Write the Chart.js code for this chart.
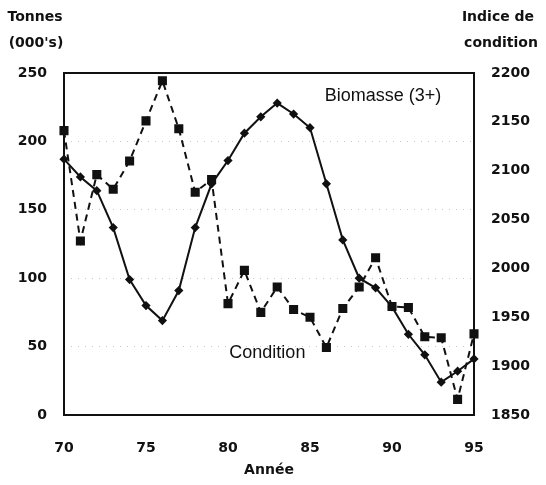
<!DOCTYPE html>
<html>
<head>
<meta charset="utf-8">
<script src="https://cdn.jsdelivr.net/npm/chart.js@4/dist/chart.umd.min.js"></script>
<style>
  html, body { margin: 0; padding: 0; background: #fff; }
  #wrap { width: 546px; height: 485px; }
</style>
</head>
<body>
<div id="wrap"><canvas id="chart" width="546" height="485"></canvas></div>
<script>
// valeurs
const years = [70, 71, 72, 73, 74, 75, 76, 77, 78, 79, 80, 81, 82, 83, 84, 85, 86, 87, 88, 89, 90, 91, 92, 93, 94, 95];
const biomasse = [187, 174, 164, 137, 99, 80, 69, 91, 137, 169, 186, 206, 218, 228, 220, 210, 169, 128, 100, 93, 79, 59, 44, 24, 32, 41];
const condition = [2141, 2028, 2096, 2081, 2110, 2151, 2192, 2143, 2078, 2091, 1964, 1998, 1955, 1981, 1958, 1950, 1919, 1959, 1981, 2011, 1961, 1960, 1930, 1929, 1866, 1933];
const leftTicks = [0, 50, 100, 150, 200, 250];
const rightTicks = [1850, 1900, 1950, 2000, 2050, 2100, 2150, 2200];
const yearTicks = [70, 75, 80, 85, 90, 95];

const boldFont = '"DejaVu Sans", sans-serif';
const textFont = '"Liberation Sans", Arial, sans-serif';

const toPoints = (vals) => years.map((yr, i) => ({ x: yr, y: vals[i] }));
const plain = (v) => String(v);

// textes fixes + cadre
const decor = {
    id: "decor",
    beforeDatasetsDraw(chart) {
        const { ctx, chartArea: a } = chart;
        ctx.save();
        ctx.strokeStyle = "#111";
        ctx.lineWidth = 2;
        ctx.strokeRect(a.left, a.top, a.right - a.left, a.bottom - a.top);
        ctx.restore();
    },
    afterDraw(chart) {
        const { ctx, scales } = chart;
        ctx.save();
        ctx.fillStyle = "#111";
        ctx.textBaseline = "middle";
        ctx.textAlign = "center";
        ctx.font = "bold 14px " + boldFont;
        ctx.fillText("Tonnes", 35, 17);
        ctx.fillText("(000's)", 36, 43);
        ctx.fillText("Indice de", 498, 17);
        ctx.fillText("condition", 501, 43);
        ctx.fillText("Année", (chart.chartArea.left + chart.chartArea.right) / 2, 470);

        ctx.font = "18px " + textFont;
        ctx.fillText("Biomasse (3+)", scales.x.getPixelForValue(89.45), scales.y.getPixelForValue(233));
        ctx.fillText("Condition", scales.x.getPixelForValue(82.4), scales.y.getPixelForValue(45));
        ctx.restore();
    }
};

const tickFont = { family: boldFont, size: 14, weight: "bold" };

new Chart(document.getElementById("chart"), {
    type: "line",
    data: {
        datasets: [
            {
                label: "Biomasse (3+)",
                data: toPoints(biomasse),
                yAxisID: "y",
                borderColor: "#111",
                backgroundColor: "#111",
                borderWidth: 2,
                pointStyle: "rectRot",
                pointRadius: 3.2,
                tension: 0,
                clip: false
            },
            {
                label: "Condition",
                data: toPoints(condition),
                yAxisID: "y2",
                borderColor: "#111",
                backgroundColor: "#111",
                borderWidth: 2,
                borderDash: [7, 5],
                pointStyle: "rect",
                pointRadius: 5,
                tension: 0,
                clip: false
            }
        ]
    },
    options: {
        responsive: false,
        animation: false,
        layout: { padding: { top: 73, left: 0, right: 0, bottom: 0 } },
        plugins: {
            legend: { display: false },
            tooltip: { enabled: false }
        },
        scales: {
            x: {
                type: "linear",
                min: 70,
                max: 95,
                afterFit: (s) => { s.height = 70; },
                afterBuildTicks: (s) => { s.ticks = yearTicks.map(v => ({ value: v })); },
                grid: { display: false, drawTicks: false },
                border: { display: false },
                ticks: { padding: 25, color: "#111", font: tickFont, callback: plain }
            },
            y: {
                position: "left",
                min: 0,
                max: 250,
                afterFit: (s) => { s.width = 64; },
                afterBuildTicks: (s) => { s.ticks = leftTicks.map(v => ({ value: v })); },
                grid: { drawTicks: false, color: "rgba(0,0,0,0.22)", lineWidth: 1 },
                border: { display: false, dash: [1, 6] },
                ticks: { padding: 17, color: "#111", font: tickFont, callback: plain }
            },
            y2: {
                position: "right",
                min: 1850,
                max: 2200,
                afterFit: (s) => { s.width = 72; },
                afterBuildTicks: (s) => { s.ticks = rightTicks.map(v => ({ value: v })); },
                grid: { display: false, drawTicks: false },
                border: { display: false },
                ticks: { padding: 17, color: "#111", font: tickFont, callback: plain }
            }
        }
    },
    plugins: [decor]
});
</script>
</body>
</html>
